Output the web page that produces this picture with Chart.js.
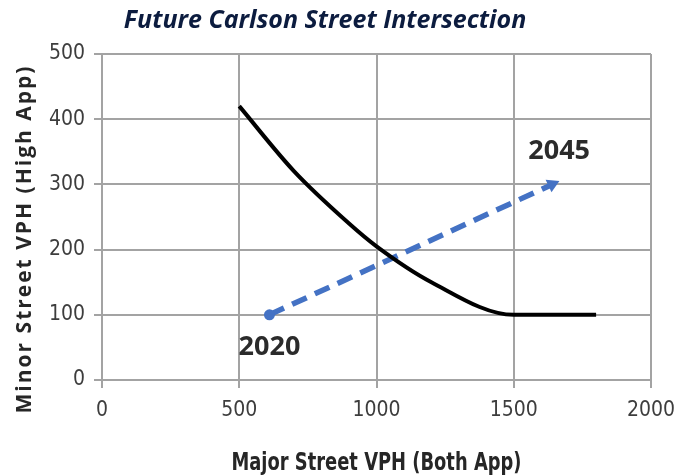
<!DOCTYPE html>
<html>
<head>
<meta charset="utf-8">
<script src="https://cdn.jsdelivr.net/npm/chart.js@4/dist/chart.umd.min.js"></script>
<style>
  html, body { margin: 0; padding: 0; background: #ffffff; }
  #wrap { width: 687px; height: 476px; position: relative; }
</style>
</head>
<body>
<div id="wrap"><canvas id="c" width="687" height="476"></canvas></div>
<script>
// ---- Data ----
const chartTitle = 'Future Carlson Street Intersection';
const xAxisTitle = 'Major Street VPH (Both App)';
const yAxisTitle = 'Minor Street VPH (High App)';

const curveX = [500, 700, 900, 1000, 1200, 1500, 1800];
const curveY = [420, 320, 240, 205, 150, 100, 100];

const trendX = [610, 1640];
const trendY = [100, 300];
const trendLabels = ['2020', '2045'];

const xTicks = [0, 500, 1000, 1500, 2000];
const yTicks = [0, 100, 200, 300, 400, 500];

const curveData = curveX.map((x, i) => ({ x: x, y: curveY[i] }));
const trendData = trendX.map((x, i) => ({ x: x, y: trendY[i] }));

const narrow = "'Liberation Sans Narrow', 'DejaVu Sans Condensed', 'Liberation Sans', sans-serif";

function fitText(ctx, text, x, y, targetWidth) {
  const w = ctx.measureText(text).width;
  const k = Math.min(1, targetWidth / w);
  ctx.save();
  ctx.translate(x, y);
  ctx.scale(k, 1);
  ctx.fillText(text, 0, 0);
  ctx.restore();
}

const textPlugin = {
  id: 'textPlugin',
  afterDraw(chart) {
    const ctx = chart.ctx;
    const xs = chart.scales.x, ys = chart.scales.y;
    ctx.save();
    ctx.textAlign = 'center';
    ctx.textBaseline = 'middle';
    // main title
    ctx.fillStyle = '#0c1c3f';
    ctx.font = "italic 700 25px 'Open Sans', sans-serif";
    fitText(ctx, chartTitle, 325, 21, 410);
    // x axis title
    ctx.fillStyle = '#262626';
    ctx.font = "700 25px " + narrow;
    fitText(ctx, xAxisTitle, (chart.chartArea.left + chart.chartArea.right) / 2, 463, 290);
    // y axis title
    ctx.save();
    ctx.translate(25, 239);
    ctx.rotate(-Math.PI / 2);
    ctx.font = "700 21px 'Open Sans', sans-serif";
    ctx.letterSpacing = '2px';
    fitText(ctx, yAxisTitle, 0, 0, 358);
    ctx.restore();
    // point labels
    ctx.fillStyle = '#2b2b2b';
    ctx.font = "700 27px 'Open Sans', sans-serif";
    const offs = [[0, 33], [7, -33]];
    trendData.forEach((p, i) => {
      const px = xs.getPixelForValue(p.x) + offs[i][0];
      const py = ys.getPixelForValue(p.y) + offs[i][1];
      ctx.fillText(trendLabels[i], px, py);
    });
    ctx.restore();
  }
};

const gridColor = '#a3a3a3';

new Chart(document.getElementById('c'), {
  type: 'line',
  data: {
    datasets: [
      {
        label: 'Warrant',
        data: curveData,
        borderColor: '#000000',
        borderWidth: 4,
        pointRadius: 0,
        cubicInterpolationMode: 'monotone',
        fill: false
      },
      {
        label: 'Projection',
        data: trendData,
        borderColor: '#4472c4',
        backgroundColor: '#4472c4',
        borderWidth: 5.5,
        borderDash: [16, 9],
        pointStyle: ['circle', 'triangle'],
        pointRadius: [5.5, 8],
        pointRotation: [0, 65],
        pointBorderWidth: 0,
        fill: false
      }
    ]
  },
  options: {
    responsive: false,
    animation: false,
    devicePixelRatio: 1,
    layout: { padding: { top: 54, right: 36, left: 0, bottom: 0 } },
    plugins: {
      legend: { display: false },
      title: { display: false },
      tooltip: { enabled: false }
    },
    scales: {
      x: {
        type: 'linear',
        min: 0, max: 2000,
        afterBuildTicks: (s) => { s.ticks = xTicks.map(v => ({ value: v })); },
        afterFit: (s) => { s.height = 96; },
        grid: { color: gridColor, lineWidth: 2, tickLength: 8, drawTicks: true },
        border: { display: true, color: gridColor, width: 2 },
        ticks: {
          color: '#3d3d3d',
          padding: 10,
          maxRotation: 0,
          callback: (v) => String(v),
          font: { family: narrow, size: 21 }
        }
      },
      y: {
        type: 'linear',
        min: 0, max: 500,
        afterBuildTicks: (s) => { s.ticks = yTicks.map(v => ({ value: v })); },
        afterFit: (s) => { s.width = 102; },
        grid: { color: gridColor, lineWidth: 2, tickLength: 8, drawTicks: true },
        border: { display: true, color: gridColor, width: 2 },
        ticks: {
          color: '#3d3d3d',
          padding: 9,
          callback: (v) => String(v),
          font: { family: narrow, size: 21 }
        }
      }
    }
  },
  plugins: [textPlugin]
});
</script>
</body>
</html>
